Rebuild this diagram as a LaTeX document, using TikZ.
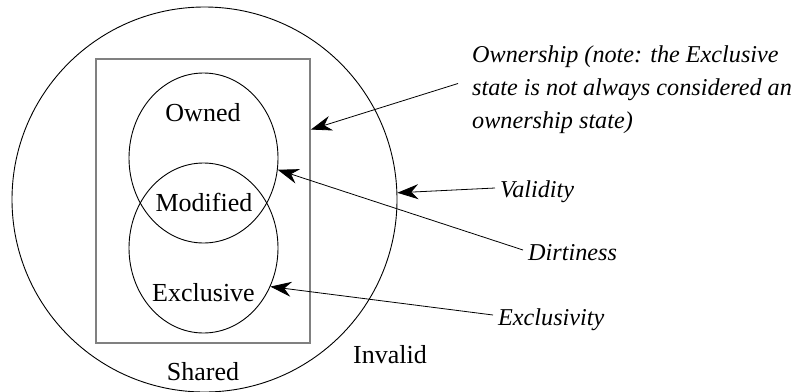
\documentclass[tikz,border=0pt]{standalone}
\usepackage{fontspec}
\setmainfont{Liberation Serif}
\usetikzlibrary{shapes.geometric,arrows.meta,calc}
\begin{document}
\begin{tikzpicture}[x=1pt,y=-1pt,
  shapeline/.style={draw=black,line width=0.9pt},
  statelabel/.style={inner sep=0pt,font=\fontsize{26}{30}\selectfont},
  proplabel/.style={inner sep=0pt,font=\fontsize{24.2}{33}\selectfont\itshape},
  pointer/.style={draw=black,line width=0.8pt,-{Stealth[length=21pt,width=15pt,inset=7pt]}}]
\useasboundingbox (0,0) rectangle (797,391);
% shapes
\node[circle,shapeline,minimum size=385pt,inner sep=0pt] (inv) at (204.5,199.5) {};
\node[rectangle,draw=black!50,line width=1.8pt,minimum width=214pt,minimum height=284pt,inner sep=0pt] (shared) at (203,201) {};
\node[ellipse,shapeline,minimum width=149pt,minimum height=170pt,inner sep=0pt] (own) at (203.5,158) {};
\node[ellipse,shapeline,minimum width=149pt,minimum height=170pt,inner sep=0pt] (excl) at (203.5,248) {};
% state labels
\node[statelabel,anchor=base] (ownt) at (203,121) {Owned};
\node[statelabel,anchor=base] (modt) at (204,211) {Modified};
\node[statelabel,anchor=base] (exclt) at (203.5,301) {Exclusive};
\node[statelabel,anchor=base] (sharedt) at (203,380) {Shared};
\node[statelabel,anchor=base west] (invt) at (353,363) {Invalid};
% property labels
\node[proplabel,anchor=north west,align=left] (ownp) at (472,45.5) {Ownership (note: the Exclusive\\state is not always considered an\\ownership state)};
\node[proplabel,anchor=base west] (valp) at (500,197) {Validity};
\node[proplabel,anchor=base west] (dirp) at (528,260) {Dirtiness};
\node[proplabel,anchor=base west] (exclp) at (498,325) {Exclusivity};
% connectors
\coordinate (ownstart) at ([shift={(-14,38)}]ownp.north west);
\draw[pointer] (ownstart) -- ($(shared.north east)!0.25!(shared.south east)$);
\draw[pointer] ([shift={(-5,-9)}]valp.base west) -- (inv.2.5);
\draw[pointer] ([shift={(-5,-10)}]dirp.base west) -- (own.-9);
\draw[pointer] ([shift={(-5,-10)}]exclp.base west) -- (excl.-30);
\end{tikzpicture}
\end{document}
